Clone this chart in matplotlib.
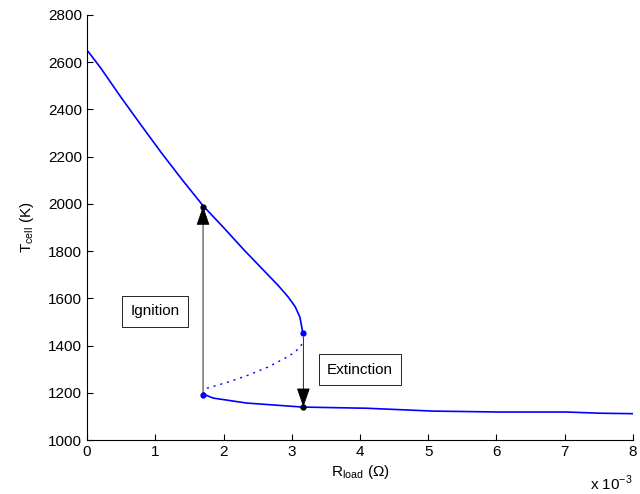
import matplotlib
matplotlib.use("Agg")
import matplotlib.pyplot as plt
import numpy as np

# R_load in units of 1e-3 Ohm, T_cell in K
upper_r = [0.0, 0.05, 0.2, 0.5, 0.8, 1.1, 1.4, 1.7, 2.0, 2.3, 2.55, 2.8, 2.95, 3.05, 3.12, 3.16]
upper_t = [2650, 2632, 2575, 2450, 2330, 2212, 2100, 1992, 1900, 1805, 1730, 1655, 1605, 1565, 1520, 1457]

lower_r = [1.70, 1.85, 2.34, 3.16, 4.10, 5.07, 6.05, 7.03, 7.52, 8.0]
lower_t = [1195, 1178, 1157, 1140, 1135, 1123, 1119, 1119, 1114, 1112]

unstable_r = [1.70, 1.76, 2.07, 2.36, 2.65, 2.90, 3.05, 3.15]
unstable_t = [1195, 1220, 1246, 1275, 1309, 1347, 1373, 1406]

ign_r, ign_from, ign_to = 1.70, 1195, 1990
ext_r, ext_from, ext_to = 3.17, 1436, 1140

plt.rcParams["font.family"] = ["Liberation Sans", "DejaVu Sans"]
plt.rcParams["font.size"] = 11
plt.rcParams["mathtext.fontset"] = "custom"
plt.rcParams["mathtext.rm"] = "Liberation Sans"

fig = plt.figure(figsize=(6.4, 4.94), dpi=100)
ax = fig.add_axes([0.136, 0.109, 0.853, 0.861])

sc = 1e-3
ax.plot(np.array(upper_r) * sc, upper_t, color="#0000ff", lw=1.2)
ax.plot(np.array(lower_r) * sc, lower_t, color="#0000ff", lw=1.2)
ax.plot(np.array(unstable_r) * sc, unstable_t, color="#0000ff", lw=1.0, ls=(0, (1.5, 3.5)))

arrow = dict(arrowstyle="-|>,head_length=1.1,head_width=0.38", color="black", lw=0.6,
             shrinkA=0, shrinkB=0)
ax.annotate("", xy=(ign_r * sc, ign_to), xytext=(ign_r * sc, ign_from), arrowprops=arrow)
ax.annotate("", xy=(ext_r * sc, ext_to), xytext=(ext_r * sc, ext_from), arrowprops=arrow)

ax.plot([ign_r * sc, ext_r * sc], [1985, 1140], "o", color="black", ms=3.5)
ax.plot([ext_r * sc, ign_r * sc], [1455, 1193], "o", color="#0000ff", ms=3.5)

box = dict(boxstyle="square,pad=0.55", fc="white", ec="black", lw=0.6)
ax.text(1.0e-3, 1546, "Ignition", ha="center", va="center", bbox=box)
ax.text(4.0e-3, 1298, "Extinction", ha="center", va="center", bbox=box)

ax.set_xlim(0, 8e-3)
ax.set_ylim(1000, 2800)
ax.set_xticks(np.arange(0, 9) * sc)
ax.set_xticklabels([str(i) for i in range(9)])
ax.set_yticks(np.arange(1000, 2801, 200))
ax.spines["top"].set_visible(False)
ax.spines["right"].set_visible(False)
ax.tick_params(direction="in", length=4, width=0.8)
ax.set_xlabel(r"R$_{\mathrm{load}}$ ($\Omega$)", labelpad=3)
ax.set_ylabel(r"T$_{\mathrm{cell}}$ (K)", labelpad=9)
ax.text(1.0, -0.078, r"x 10$^{-3}$", transform=ax.transAxes, ha="right", va="top")

fig.savefig("out.png", dpi=100)
